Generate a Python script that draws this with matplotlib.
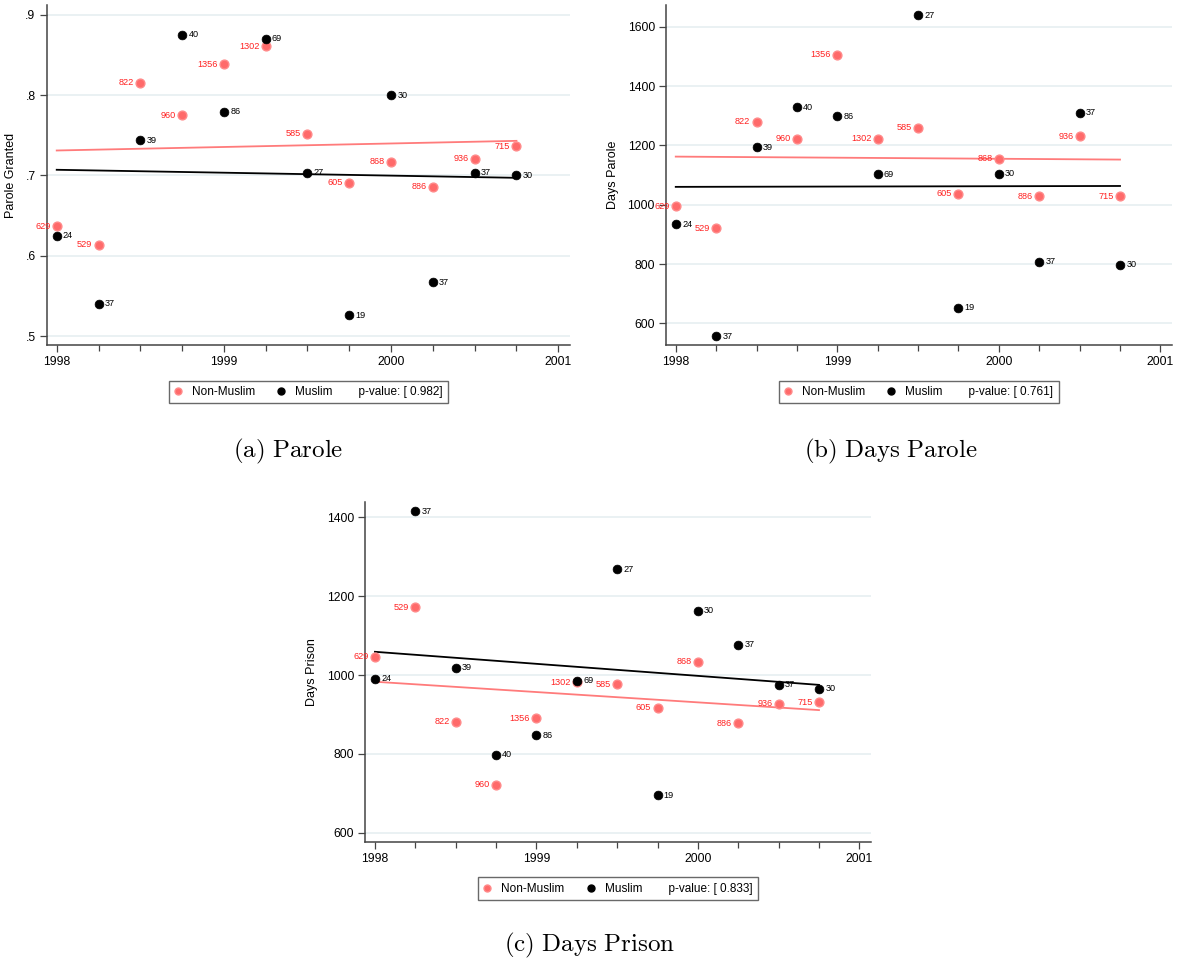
import matplotlib
matplotlib.use("Agg")
import matplotlib.pyplot as plt
from matplotlib.lines import Line2D
from matplotlib.ticker import FuncFormatter, MultipleLocator

plt.rcParams['font.family'] = ['Liberation Sans', 'DejaVu Sans']
plt.rcParams['mathtext.fontset'] = 'cm'

# quarters (x positions)
quarters = [1998.0, 1998.25, 1998.5, 1998.75, 1999.0, 1999.25,
            1999.5, 1999.75, 2000.0, 2000.25, 2000.5, 2000.75]

# group sizes used as point labels
n_non = [629, 529, 822, 960, 1356, 1302, 585, 605, 868, 886, 936, 715]
n_mus = [24, 37, 39, 40, 86, 69, 27, 19, 30, 37, 37, 30]

# (a) Parole granted
parole_non = [0.637, 0.614, 0.815, 0.775, 0.838, 0.861, 0.752, 0.691, 0.717, 0.686, 0.721, 0.736]
parole_mus = [0.625, 0.540, 0.744, 0.875, 0.779, 0.870, 0.703, 0.526, 0.800, 0.567, 0.703, 0.700]
parole_fit_non = [0.731, 0.743]
parole_fit_mus = [0.707, 0.697]

# (b) Days parole
dparole_non = [994, 921, 1279, 1222, 1505, 1222, 1259, 1036, 1155, 1029, 1231, 1029]
dparole_mus = [934, 557, 1193, 1329, 1298, 1103, 1639, 653, 1105, 807, 1310, 797]
dparole_fit_non = [1162, 1152]
dparole_fit_mus = [1060, 1063]

# (c) Days prison
dprison_non = [1046, 1172, 882, 722, 890, 982, 977, 917, 1034, 878, 927, 931]
dprison_mus = [991, 1416, 1019, 798, 847, 986, 1268, 695, 1163, 1077, 975, 965]
dprison_fit_non = [983, 911]
dprison_fit_mus = [1059, 975]

RED_FACE = '#ff6a6a'
RED_EDGE = '#ff8a8a'
RED_TEXT = '#ff2222'
RED_LINE = '#ff7b7b'
GRID = '#e8f0f2'
SPINE = '#444444'


def draw_panel(ax, non_vals, mus_vals, fit_non, fit_mus, ylim, yticks, ylabel, pval, fmt=None):
    for y in yticks:
        ax.axhline(y, color=GRID, lw=1.3, zorder=0)
    ax.scatter(quarters, non_vals, s=40, facecolor=RED_FACE, edgecolor=RED_EDGE, lw=1, zorder=3)
    ax.scatter(quarters, mus_vals, s=40, facecolor='black', edgecolor='black', lw=0.5, zorder=4)
    for x, y, n in zip(quarters, non_vals, n_non):
        ax.annotate(str(n), (x, y), xytext=(-4.5, 0), textcoords='offset points',
                    ha='right', va='center', fontsize=6.6, color=RED_TEXT, zorder=5)
    for x, y, n in zip(quarters, mus_vals, n_mus):
        ax.annotate(str(n), (x, y), xytext=(4.5, 0), textcoords='offset points',
                    ha='left', va='center', fontsize=6.6, color='black', zorder=5)
    ends = [quarters[0], quarters[-1]]
    ax.plot(ends, fit_non, color=RED_LINE, lw=1.3, zorder=2)
    ax.plot(ends, fit_mus, color='black', lw=1.3, zorder=2)

    ax.set_xlim(1997.94, 2001.07)
    ax.set_ylim(*ylim)
    ax.set_xticks([1998, 1999, 2000, 2001])
    ax.xaxis.set_minor_locator(MultipleLocator(0.25))
    ax.set_yticks(yticks)
    if fmt:
        ax.yaxis.set_major_formatter(FuncFormatter(fmt))
    ax.tick_params(axis='both', which='major', labelsize=8.7, length=5, width=0.9,
                   color=SPINE, pad=3)
    ax.tick_params(axis='x', which='minor', length=4, width=0.9, color=SPINE)
    ax.tick_params(axis='y', which='minor', left=False)
    for s in ['top', 'right']:
        ax.spines[s].set_visible(False)
    for s in ['left', 'bottom']:
        ax.spines[s].set_color(SPINE)
        ax.spines[s].set_linewidth(1.1)
    ax.set_ylabel(ylabel, fontsize=9, labelpad=6)

    handles = [
        Line2D([], [], ls='none', marker='o', ms=5, mfc=RED_FACE, mec=RED_EDGE),
        Line2D([], [], ls='none', marker='o', ms=5, mfc='black', mec='black'),
    ]
    labels = ['Non-Muslim', f'Muslim        p-value: [ {pval}]']
    leg = ax.legend(handles, labels, loc='upper center', bbox_to_anchor=(0.5, -0.088),
                    ncol=2, fontsize=8.5, frameon=True, fancybox=False,
                    handlelength=0.6, handletextpad=0.9, columnspacing=1.9,
                    borderpad=0.45, edgecolor=SPINE)
    leg.get_frame().set_linewidth(1.0)


fig = plt.figure(figsize=(11.82, 9.65), dpi=100)
ax_a = fig.add_axes([0.0395, 0.6425, 0.4427, 0.3523])
ax_b = fig.add_axes([0.5635, 0.6425, 0.4278, 0.3523])
ax_c = fig.add_axes([0.309, 0.1278, 0.4276, 0.3523])

draw_panel(ax_a, parole_non, parole_mus, parole_fit_non, parole_fit_mus,
           (0.489, 0.912), [0.5, 0.6, 0.7, 0.8, 0.9], 'Parole Granted', '0.982',
           fmt=lambda v, p: f'{v:.1f}'.lstrip('0'))
draw_panel(ax_b, dparole_non, dparole_mus, dparole_fit_non, dparole_fit_mus,
           (527, 1673), [600, 800, 1000, 1200, 1400, 1600], 'Days Parole', '0.761')
draw_panel(ax_c, dprison_non, dprison_mus, dprison_fit_non, dprison_fit_mus,
           (577, 1440), [600, 800, 1000, 1200, 1400], 'Days Prison', '0.833')

fig.text(288 / 1182, 1 - 451 / 965, r'$\mathrm{(a)\ Parole}$', fontsize=18, ha='center', va='center')
fig.text(891 / 1182, 1 - 451 / 965, r'$\mathrm{(b)\ Days\ Parole}$', fontsize=18, ha='center', va='center')
fig.text(590 / 1182, 1 - 945 / 965, r'$\mathrm{(c)\ Days\ Prison}$', fontsize=18, ha='center', va='center')

fig.savefig('out.png', dpi=100)
